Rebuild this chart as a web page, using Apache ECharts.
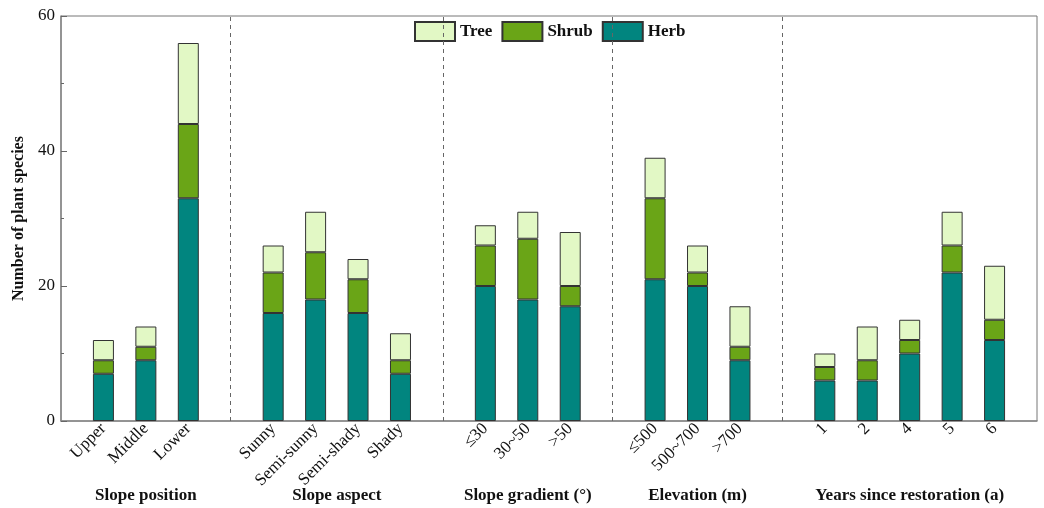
<!DOCTYPE html>
<html lang="en">
<head>
    <meta charset="UTF-8">
    <title>Plant species by site factor</title>
    <script src="https://cdn.jsdelivr.net/npm/echarts@6/dist/echarts.min.js"></script>
    <style>
        html, body { margin: 0; padding: 0; background: #fff; }
        #chart { width: 1044px; height: 508px; }
    </style>
</head>
<body>
<div id="chart"></div>

<script>
    // data
    var categories = ['Upper', 'Middle', 'Lower',
        'Sunny', 'Semi-sunny', 'Semi-shady', 'Shady',
        '≤30', '30~50', '>50',
        '≤500', '500~700', '>700',
        '1', '2', '4', '5', '6'];
    var groupNames = ['Slope position', 'Slope aspect', 'Slope gradient (°)', 'Elevation (m)', 'Years since restoration (a)'];
    var groupSizes = [3, 4, 3, 3, 5];
    var herb  = [7, 9, 33, 16, 18, 16, 7, 20, 18, 17, 21, 20, 9, 6, 6, 10, 22, 12];
    var shrub = [2, 2, 11, 6, 7, 5, 2, 6, 9, 3, 12, 2, 2, 2, 3, 2, 4, 3];
    var tree  = [3, 3, 12, 4, 6, 3, 4, 3, 4, 8, 6, 4, 6, 2, 5, 3, 5, 8];

    var serif = 'Liberation Serif, Times New Roman, serif';

    // lay categories out on slots, with an empty slot between groups
    var slots = [''];
    var slotIdx = [];      // slot index of each category
    var sepIdx = [];       // empty slots used as group separators
    var groupCenter = [];  // [first, last] slot of each group
    var k = 0;
    groupSizes.forEach(function (n, g) {
        var first = slots.length;
        for (var i = 0; i < n; i++) {
            slotIdx.push(slots.length);
            slots.push(categories[k++]);
        }
        groupCenter.push([first, slots.length - 1]);
        if (g < groupSizes.length - 1) sepIdx.push(slots.length);
        slots.push('');
    });

    function toSlots(values) {
        var out = slots.map(function () { return '-'; });
        values.forEach(function (v, i) { out[slotIdx[i]] = v; });
        return out;
    }

    var colors = {Herb: '#01857f', Shrub: '#6aa517', Tree: '#e2f8c5'};

    function barSeries(name, values, extra) {
        var s = {
            name: name,
            type: 'bar',
            stack: 'total',
            barWidth: 21,
            data: toSlots(values),
            itemStyle: {color: colors[name], borderColor: '#333', borderWidth: 1}
        };
        return Object.assign(s, extra || {});
    }

    var myChart = echarts.init(document.getElementById('chart'));
    var option = {
        animation: false,
        grid: {
            left: 61, right: 7, top: 16, bottom: 87,
            show: true, borderColor: '#777', borderWidth: 1
        },
        legend: {
            data: ['Tree', 'Shrub', 'Herb'],
            top: 20,
            left: 411,
            icon: 'rect',
            itemWidth: 40,
            itemHeight: 19,
            itemGap: 9,
            padding: [1, 3],
            backgroundColor: '#fff',
            textStyle: {fontFamily: serif, fontWeight: 'bold', fontSize: 17, color: '#111'}
        },
        xAxis: {
            type: 'category',
            data: slots,
            boundaryGap: false,
            axisLine: {lineStyle: {color: '#888', width: 1.5}},
            axisTick: {show: false},
            axisLabel: {
                interval: 0,
                rotate: 45,
                margin: 5,
                fontFamily: serif,
                fontSize: 17,
                color: '#111'
            },
            splitLine: {show: false}
        },
        yAxis: {
            type: 'value',
            min: 0,
            max: 60,
            interval: 20,
            name: 'Number of plant species',
            nameLocation: 'middle',
            nameGap: 32,
            nameTextStyle: {fontFamily: serif, fontWeight: 'bold', fontSize: 16, color: '#111'},
            axisLine: {show: true, lineStyle: {color: '#888', width: 1.5}},
            axisTick: {show: true, inside: true, length: 6, lineStyle: {color: '#666'}},
            minorTick: {show: true, splitNumber: 2, length: 3, lineStyle: {color: '#666'}},
            axisLabel: {margin: 6, fontFamily: serif, fontSize: 17, color: '#111'},
            splitLine: {show: false}
        },
        series: [
            barSeries('Herb', herb, {
                markLine: {
                    silent: true,
                    symbol: 'none',
                    label: {show: false},
                    lineStyle: {type: [4, 4], color: '#666', width: 1},
                    data: sepIdx.map(function (i) { return {xAxis: i}; })
                }
            }),
            barSeries('Shrub', shrub),
            barSeries('Tree', tree)
        ]
    };
    myChart.setOption(option);

    // group titles under the axis labels
    var titles = groupNames.map(function (name, g) {
        var a = myChart.convertToPixel({xAxisIndex: 0}, groupCenter[g][0]);
        var b = myChart.convertToPixel({xAxisIndex: 0}, groupCenter[g][1]);
        return {
            type: 'text',
            x: (a + b) / 2,
            y: 496,
            style: {
                text: name,
                x: 0, y: 0,
                align: 'center',
                verticalAlign: 'middle',
                font: 'bold 17px ' + serif,
                fill: '#111'
            }
        };
    });
    myChart.setOption({graphic: titles});
</script>
</body>
</html>
